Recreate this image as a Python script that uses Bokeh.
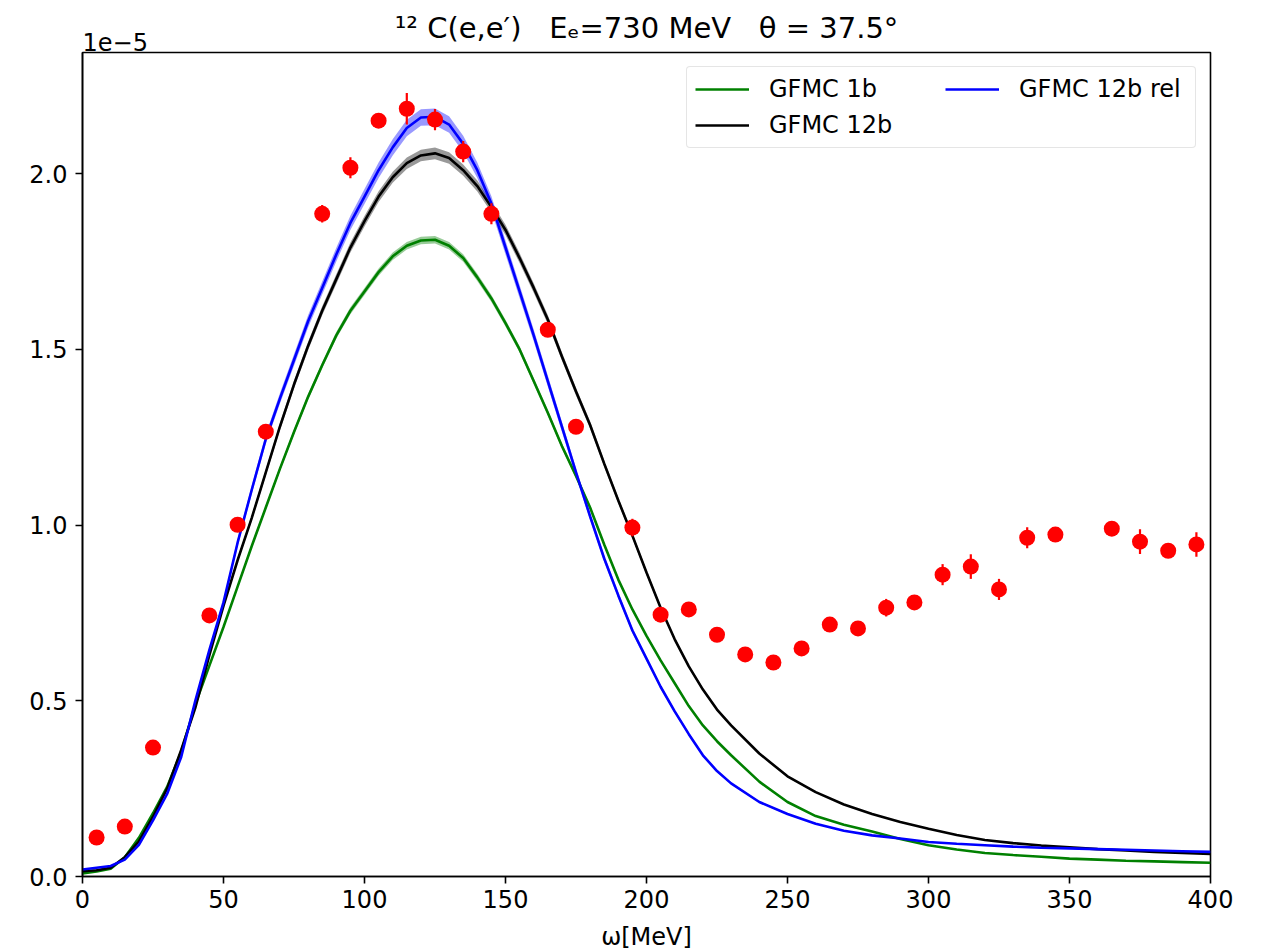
from bokeh.plotting import figure
from bokeh.models import Legend, LegendItem, Title, ColumnDataSource, FixedTicker, PrintfTickFormatter
from bokeh.embed import file_html
from bokeh.resources import INLINE

# y values are in units of 1e-5
omega = [0, 5, 10, 15, 20, 25, 30, 35, 40, 45, 50, 55, 60, 65, 70, 75, 80, 85, 90, 95,
         100, 105, 110, 115, 120, 125, 130, 135, 140, 145, 150, 155, 160, 165, 170, 175,
         180, 185, 190, 195, 200, 205, 210, 215, 220, 225, 230, 240, 250, 260, 270, 280, 290,
         300, 310, 320, 330, 340, 350, 360, 370, 380, 390, 400]

gfmc_1b = [0.009, 0.014, 0.022, 0.055, 0.11, 0.18, 0.255, 0.355, 0.49, 0.60, 0.71, 0.825,
           0.94, 1.05, 1.16, 1.265, 1.365, 1.455, 1.54, 1.61, 1.665, 1.72, 1.765, 1.795,
           1.81, 1.812, 1.795, 1.76, 1.705, 1.645, 1.575, 1.50, 1.41, 1.32, 1.225, 1.14,
           1.05, 0.945, 0.845, 0.76, 0.685, 0.615, 0.55, 0.485, 0.43, 0.385, 0.345, 0.27,
           0.212, 0.172, 0.147, 0.128, 0.107, 0.089, 0.077, 0.067, 0.061, 0.056, 0.051, 0.048,
           0.045, 0.043, 0.041, 0.039]

gfmc_12b = [0.015, 0.018, 0.025, 0.055, 0.10, 0.17, 0.25, 0.36, 0.48, 0.63, 0.77, 0.90,
            1.02, 1.15, 1.28, 1.40, 1.51, 1.61, 1.70, 1.79, 1.865, 1.935, 1.99, 2.03,
            2.052, 2.058, 2.045, 2.01, 1.965, 1.905, 1.84, 1.76, 1.675, 1.585, 1.48, 1.38,
            1.285, 1.175, 1.07, 0.97, 0.865, 0.765, 0.675, 0.598, 0.532, 0.475, 0.43, 0.35,
            0.285, 0.24, 0.205, 0.178, 0.155, 0.136, 0.118, 0.104, 0.095, 0.088, 0.083, 0.078,
            0.074, 0.070, 0.067, 0.064]

gfmc_12b_rel = [0.02, 0.025, 0.03, 0.048, 0.09, 0.16, 0.235, 0.34, 0.50, 0.645, 0.78, 0.95,
                1.10, 1.245, 1.36, 1.47, 1.58, 1.675, 1.77, 1.86, 1.935, 2.01, 2.075, 2.13,
                2.16, 2.162, 2.14, 2.085, 2.01, 1.915, 1.79, 1.665, 1.54, 1.41, 1.28, 1.15,
                1.025, 0.905, 0.80, 0.70, 0.62, 0.54, 0.47, 0.405, 0.345, 0.30, 0.265, 0.212,
                0.178, 0.15, 0.13, 0.117, 0.108, 0.098, 0.093, 0.089, 0.085, 0.082, 0.080,
                0.078, 0.076, 0.074, 0.072, 0.070]

# relative width of the uncertainty bands
band_1b, band_12b, band_rel = 0.006, 0.008, 0.011

exp_omega = [5, 15, 25, 45, 55, 65, 85, 95, 105, 115, 125, 135, 145, 165, 175, 195, 205, 215,
             225, 235, 245, 255, 265, 275, 285, 295, 305, 315, 325, 335, 345, 365, 375, 385, 395]
exp_xs = [0.111, 0.142, 0.367, 0.743, 1.001, 1.266, 1.886, 2.017, 2.151, 2.185, 2.154, 2.063,
          1.886, 1.556, 1.280, 0.993, 0.745, 0.760, 0.688, 0.632, 0.609, 0.649, 0.717, 0.706,
          0.765, 0.780, 0.859, 0.882, 0.817, 0.964, 0.973, 0.990, 0.953, 0.927, 0.945]
exp_err = [0.01, 0.01, 0.01, 0.015, 0.015, 0.02, 0.025, 0.03, 0.02, 0.045, 0.03, 0.03,
           0.03, 0.02, 0.02, 0.025, 0.015, 0.015, 0.015, 0.015, 0.015, 0.015, 0.02, 0.015,
           0.025, 0.02, 0.03, 0.035, 0.03, 0.03, 0.02, 0.02, 0.035, 0.02, 0.035]

FONT = "DejaVu Sans"
NB = "\u00a0"

p = figure(frame_width=1128, frame_height=824, x_range=(0, 400), y_range=(0, 2.345),
           output_backend="svg", toolbar_location=None, title=None,
           min_border_left=82, min_border_top=52, min_border_right=46, min_border_bottom=40)
p.background_fill_color = "white"
p.border_fill_color = "white"
p.xgrid.visible = False
p.ygrid.visible = False
p.outline_line_color = "black"
p.outline_line_width = 1.6

offset_title = Title(text="1e−5", align="left", text_font=FONT, text_font_size="24px",
                     text_font_style="normal", text_color="black", standoff=4)
main_title = Title(text=f"¹²{NB}C(e,e′){NB}{NB}{NB}Eₑ=730{NB}MeV{NB}{NB}{NB}θ{NB}={NB}37.5°",
                   align="center", text_font=FONT, text_font_size="29px",
                   text_font_style="normal", text_color="black", standoff=-33)
p.add_layout(offset_title, "above")
p.add_layout(main_title, "above")

for ax in (p.xaxis[0], p.yaxis[0]):
    ax.major_tick_out = 7
    ax.major_tick_in = 0
    ax.minor_tick_out = 0
    ax.minor_tick_in = 0
    ax.major_label_text_font = FONT
    ax.major_label_text_font_size = "24px"
    ax.major_label_text_color = "black"
    ax.axis_label_text_font = FONT
    ax.axis_label_text_font_size = "24px"
    ax.axis_label_text_font_style = "normal"
    ax.axis_label_text_color = "black"
    ax.axis_line_width = 1.6
    ax.major_tick_line_width = 1.6

p.xaxis.ticker = FixedTicker(ticks=[0, 50, 100, 150, 200, 250, 300, 350, 400])
p.yaxis.ticker = FixedTicker(ticks=[0, 0.5, 1.0, 1.5, 2.0])
p.yaxis.formatter = PrintfTickFormatter(format="%.1f")
p.xaxis.axis_label = "ω[MeV]"
p.xaxis.axis_label_standoff = 12
p.xaxis.major_label_standoff = 6
p.yaxis.major_label_standoff = 8

def band(vals, frac):
    lo = [v * (1 - frac) for v in vals]
    hi = [v * (1 + frac) for v in vals]
    return lo, hi

lo, hi = band(gfmc_1b, band_1b)
p.varea(x=omega, y1=lo, y2=hi, fill_color="#008000", fill_alpha=0.4)
lo, hi = band(gfmc_12b, band_12b)
p.varea(x=omega, y1=lo, y2=hi, fill_color="black", fill_alpha=0.4)
lo, hi = band(gfmc_12b_rel, band_rel)
p.varea(x=omega, y1=lo, y2=hi, fill_color="#0000ff", fill_alpha=0.4)

r1 = p.line(omega, gfmc_1b, line_color="#008000", line_width=2.6)
r2 = p.line(omega, gfmc_12b, line_color="black", line_width=2.6)
r3 = p.line(omega, gfmc_12b_rel, line_color="#0000ff", line_width=2.6)

src = ColumnDataSource(dict(x=exp_omega, y=exp_xs,
                            lo=[y - e for y, e in zip(exp_xs, exp_err)],
                            hi=[y + e for y, e in zip(exp_xs, exp_err)]))
p.segment(x0="x", y0="lo", x1="x", y1="hi", source=src, line_color="#ff0000", line_width=2.2)
p.scatter(x="x", y="y", source=src, size=16, fill_color="#ff0000", line_color=None)

legend = Legend(items=[LegendItem(label="GFMC 1b", renderers=[r1]),
                       LegendItem(label="GFMC 12b", renderers=[r2]),
                       LegendItem(label="GFMC 12b rel", renderers=[r3])],
                location="top_right", ncols=2)
legend.label_text_font = FONT
legend.label_text_font_size = "24px"
legend.label_text_color = "black"
legend.glyph_width = 54
legend.glyph_height = 24
legend.label_standoff = 20
legend.label_width = 168
legend.spacing = 8
legend.padding = 8
legend.margin = 14
legend.border_line_color = "#cccccc"
legend.border_line_width = 1.5
legend.border_radius = 4
legend.background_fill_alpha = 0.9
p.add_layout(legend)

open("out.html", "w").write(file_html(p, INLINE))
